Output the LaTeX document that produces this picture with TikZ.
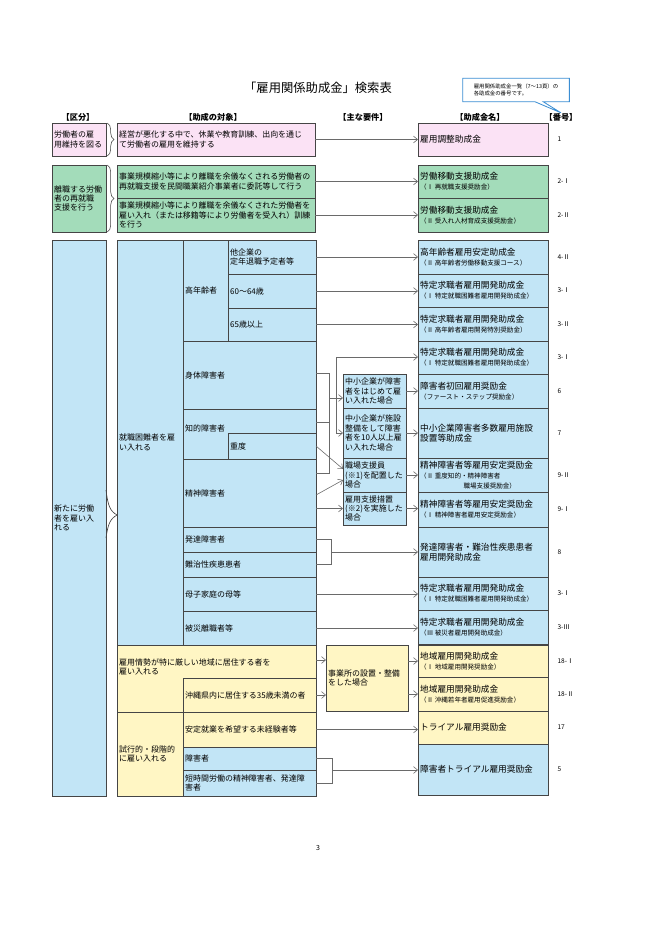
\documentclass[tikz,border=0pt]{standalone}
\usepackage{fontspec}
\setmainfont{Noto Sans CJK JP}
\usetikzlibrary{arrows.meta, positioning, fit, calc, shapes.callouts, decorations.pathreplacing}
\definecolor{kpink}{HTML}{FBE2F5}
\definecolor{kgreen}{HTML}{A3DCBA}
\definecolor{kblue}{HTML}{C2E5F6}
\definecolor{kyellow}{HTML}{FFF6C4}
\definecolor{kline}{HTML}{454545}
\definecolor{karrow}{HTML}{6A6A6A}
\definecolor{knote}{HTML}{3B8ED3}
\newcommand{\subn}{\fontsize{5.6}{6.6}\selectfont}
\tikzset{
  cell/.style={draw=kline, line width=0.55pt, inner sep=0pt, outer sep=0pt},
  txt/.style={inner sep=0.6mm, align=left, font=\fontsize{6.8}{8}\selectfont},
  fundtxt/.style={inner sep=0.6mm, align=left, font=\fontsize{7.4}{8.4}\selectfont},
  num/.style={inner sep=0pt, font=\fontsize{5.6}{6}\selectfont},
  hdr/.style={inner sep=0pt, font=\fontsize{7}{8}\selectfont\bfseries},
  arr/.style={draw=karrow, line width=0.5pt, -{Straight Barb[length=1.2mm, width=2mm]}},
  link/.style={draw=karrow, line width=0.5pt},
}
\begin{document}
\begin{tikzpicture}[x=0.3mm, y=-0.3mm]
\useasboundingbox (0,0) rectangle (660,934);
\fill[white] (0,0) rectangle (660,934);

% title, headers, note
\node[inner sep=0pt, font=\fontsize{10.5}{12}\selectfont] (title) at (318,88) {「雇用関係助成金」検索表};
\node[hdr] (hkubun) at (78,117) {【区分】};
\node[hdr] (htaisho) at (213,117) {【助成の対象】};
\node[hdr] (hyoken) at (363,117) {【主な要件】};
\node[hdr] (hkin) at (480,117) {【助成金名】};
\node[hdr] (hbango) at (561,117) {【番号】};
\node[rectangle callout, draw=knote, line width=0.7pt, fill=white, align=left,
  minimum width=32mm, minimum height=7mm, inner sep=1mm,
  font=\fontsize{4.6}{6}\selectfont, callout absolute pointer={(hbango.north)}]
  (note) at (516,90) {雇用関係助成金一覧（7～13頁）の\\各助成金の番号です。};

% row 1
\node[cell, fill=kpink, fit={(52,123) (106,156)}] (kubun1) {};
\node[txt, right=0pt of kubun1.west] (kubun1t) {労働者の雇\\用維持を図る};
\node[cell, fill=kpink, fit={(117,123) (315,156)}] (taisho1) {};
\node[txt, right=0pt of taisho1.west] (taisho1t) {経営が悪化する中で、休業や教育訓練、出向を通じ\\て労働者の雇用を維持する};
\node[cell, fill=kpink, fit={(418,123) (548,156)}] (kin1) {};
\node[fundtxt, right=0pt of kin1.west] (kin1t) {雇用調整助成金};
\node[num, right=2.8mm of kin1] (n1) {1};
\draw[link, draw=kline, decorate, decoration={brace, amplitude=2mm}]
  ([xshift=0.4mm]kubun1.north east) -- ([xshift=0.4mm]kubun1.south east);
\draw[arr] (taisho1.east) -- (kin1.west);

% row 2
\node[cell, fill=kgreen, fit={(52,165) (106,232)}] (kubun2) {};
\node[txt, right=0pt of kubun2.west] (kubun2t) {離職する労働\\者の再就職\\支援を行う};
\node[cell, fill=kgreen, fit={(117,165) (315,198)}] (taisho2a) {};
\node[txt, right=0pt of taisho2a.west] (taisho2at) {事業規模縮小等により離職を余儀なくされる労働者の\\再就職支援を民間職業紹介事業者に委託等して行う};
\node[cell, fill=kgreen, fit={(117,198) (315,232)}] (taisho2b) {};
\node[txt, right=0pt of taisho2b.west] (taisho2bt) {事業規模縮小等により離職を余儀なくされた労働者を\\雇い入れ（または移籍等により労働者を受入れ）訓練\\を行う};
\node[cell, fill=kgreen, fit={(418,165) (548,198)}] (kin2a) {};
\node[fundtxt, right=0pt of kin2a.west] (kin2at) {労働移動支援助成金\\{\subn （Ⅰ 再就職支援奨励金）}};
\node[cell, fill=kgreen, fit={(418,198) (548,232)}] (kin2b) {};
\node[fundtxt, right=0pt of kin2b.west] (kin2bt) {労働移動支援助成金\\{\subn （Ⅱ 受入れ人材育成支援奨励金）}};
\node[num, right=2.8mm of kin2a] (n2a) {2-Ⅰ};
\node[num, right=2.8mm of kin2b] (n2b) {2-Ⅱ};
\draw[link, draw=kline, decorate, decoration={brace, amplitude=2mm}]
  ([xshift=0.4mm]kubun2.north east) -- ([xshift=0.4mm]kubun2.south east);
\draw[arr] (taisho2a.east) -- (kin2a.west);
\draw[arr] (taisho2b.east) -- (kin2b.west);

% row 3: left cells
\node[cell, fill=kblue, fit={(52,240) (106,796)}] (shinki) {};
\node[txt, right=0pt of shinki.west] (shinkit) {新たに労働\\者を雇い入\\れる};
\draw[draw=kline, line width=0.55pt] (106,490) .. controls (108,506) and (110,511) .. (117,515)
  .. controls (110,519) and (108,524) .. (106,538);
\node[cell, fill=kblue, fit={(117,240) (183,645)}] (konnan) {};
\node[txt, right=0pt of konnan.west] (konnant) {就職困難者を雇\\い入れる};
\node[cell, fill=kblue, fit={(183,240) (228,341)}] (kourei) {};
\node[txt, right=0pt of kourei.west] (koureit) {高年齢者};
\node[cell, fill=kblue, fit={(228,240) (316,274)}] (tanin) {};
\node[txt, right=0pt of tanin.west] (tanint) {他企業の\\定年退職予定者等};
\node[cell, fill=kblue, fit={(228,274) (316,308)}] (age60) {};
\node[txt, right=0pt of age60.west] (age60t) {60～64歳};
\node[cell, fill=kblue, fit={(228,308) (316,341)}] (age65) {};
\node[txt, right=0pt of age65.west] (age65t) {65歳以上};
\node[cell, fill=kblue, fit={(183,341) (316,409)}] (shintai) {};
\node[txt, right=0pt of shintai.west] (shintait) {身体障害者};
\node[cell, fill=kblue, fit={(183,409) (316,459)}] (chiteki) {};
\node[txt, anchor=west] (chitekit) at (183,428) {知的障害者};
\node[cell, fill=kblue, fit={(228,433) (316,459)}] (judo) {};
\node[txt, right=0pt of judo.west] (judot) {重度};
\node[cell, fill=kblue, fit={(183,459) (316,527)}] (seishin) {};
\node[txt, right=0pt of seishin.west] (seishint) {精神障害者};
\node[cell, fill=kblue, fit={(183,527) (316,552)}] (hattatsu) {};
\node[txt, right=0pt of hattatsu.west] (hattatsut) {発達障害者};
\node[cell, fill=kblue, fit={(183,552) (316,577)}] (nanji) {};
\node[txt, right=0pt of nanji.west] (nanjit) {難治性疾患患者};
\node[cell, fill=kblue, fit={(183,577) (316,611)}] (boshi) {};
\node[txt, right=0pt of boshi.west] (boshit) {母子家庭の母等};
\node[cell, fill=kblue, fit={(183,611) (316,645)}] (hisai) {};
\node[txt, right=0pt of hisai.west] (hisait) {被災離職者等};
\node[cell, fill=kyellow, fit={(117,645) (316,712)}] (chiiki) {};
\node[txt, anchor=west] (chiikit) at (117,667) {雇用情勢が特に厳しい地域に居住する者を\\雇い入れる};
\node[cell, fill=kyellow, fit={(183,678) (316,712)}] (okinawa) {};
\node[txt, right=0pt of okinawa.west] (okinawat) {沖縄県内に居住する35歳未満の者};
\node[cell, fill=kyellow, fit={(117,712) (183,796)}] (shiko) {};
\node[txt, right=0pt of shiko.west] (shikot) {試行的・段階的\\に雇い入れる};
\node[cell, fill=kyellow, fit={(183,712) (316,747)}] (antei) {};
\node[txt, right=0pt of antei.west] (anteit) {安定就業を希望する未経験者等};
\node[cell, fill=kblue, fit={(183,747) (316,770)}] (shogai) {};
\node[txt, right=0pt of shogai.west] (shogait) {障害者};
\node[cell, fill=kblue, fit={(183,770) (316,796)}] (tanjikan) {};
\node[txt, right=0pt of tanjikan.west] (tanjikant) {短時間労働の精神障害者、発達障\\害者};

% row 3: conditions
\node[cell, fill=kblue, fit={(343,374) (406,408)}] (condA) {};
\node[txt, right=0pt of condA.west] (condAt) {中小企業が障害\\者をはじめて雇\\い入れた場合};
\node[cell, fill=kblue, fit={(343,408) (406,458)}] (condB) {};
\node[txt, right=0pt of condB.west] (condBt) {中小企業が施設\\整備をして障害\\者を10人以上雇\\い入れた場合};
\node[cell, fill=kblue, fit={(343,458) (406,492)}] (condC) {};
\node[txt, right=0pt of condC.west] (condCt) {職場支援員\\(※1)を配置した\\場合};
\node[cell, fill=kblue, fit={(343,492) (406,525)}] (condD) {};
\node[txt, right=0pt of condD.west] (condDt) {雇用支援措置\\(※2)を実施した\\場合};
\node[cell, fill=kyellow, fit={(326,645) (408,711)}] (jigyo) {};
\node[txt, right=0pt of jigyo.west] (jigyot) {事業所の設置・整備\\をした場合};

% row 3: subsidies
\node[cell, fill=kblue, fit={(418,240) (548,274)}] (kin3) {};
\node[fundtxt, right=0pt of kin3.west] (kin3t) {高年齢者雇用安定助成金\\{\subn （Ⅱ 高年齢者労働移動支援コース）}};
\node[cell, fill=kblue, fit={(418,274) (548,307)}] (kin4) {};
\node[fundtxt, right=0pt of kin4.west] (kin4t) {特定求職者雇用開発助成金\\{\subn （Ⅰ 特定就職困難者雇用開発助成金）}};
\node[cell, fill=kblue, fit={(418,307) (548,341)}] (kin5) {};
\node[fundtxt, right=0pt of kin5.west] (kin5t) {特定求職者雇用開発助成金\\{\subn （Ⅱ 高年齢者雇用開発特別奨励金）}};
\node[cell, fill=kblue, fit={(418,341) (548,374)}] (kin6) {};
\node[fundtxt, right=0pt of kin6.west] (kin6t) {特定求職者雇用開発助成金\\{\subn （Ⅰ 特定就職困難者雇用開発助成金）}};
\node[cell, fill=kblue, fit={(418,374) (548,408)}] (kin7) {};
\node[fundtxt, right=0pt of kin7.west] (kin7t) {障害者初回雇用奨励金\\{\subn （ファースト・ステップ奨励金）}};
\node[cell, fill=kblue, fit={(418,408) (548,458)}] (kin8) {};
\node[fundtxt, right=0pt of kin8.west] (kin8t) {中小企業障害者多数雇用施設\\設置等助成金};
\node[cell, fill=kblue, fit={(418,458) (548,492)}] (kin9) {};
\node[fundtxt, right=0pt of kin9.west] (kin9t) {精神障害者等雇用安定奨励金\\{\subn （Ⅱ 重度知的・精神障害者}\\{\subn\hspace*{13mm}職場支援奨励金）}};
\node[cell, fill=kblue, fit={(418,492) (548,527)}] (kin10) {};
\node[fundtxt, right=0pt of kin10.west] (kin10t) {精神障害者等雇用安定奨励金\\{\subn （Ⅰ 精神障害者雇用安定奨励金）}};
\node[cell, fill=kblue, fit={(418,527) (548,577)}] (kin11) {};
\node[fundtxt, right=0pt of kin11.west] (kin11t) {発達障害者・難治性疾患患者\\雇用開発助成金};
\node[cell, fill=kblue, fit={(418,577) (548,610)}] (kin12) {};
\node[fundtxt, right=0pt of kin12.west] (kin12t) {特定求職者雇用開発助成金\\{\subn （Ⅰ 特定就職困難者雇用開発助成金）}};
\node[cell, fill=kblue, fit={(418,610) (548,644)}] (kin13) {};
\node[fundtxt, right=0pt of kin13.west] (kin13t) {特定求職者雇用開発助成金\\{\subn （Ⅲ 被災者雇用開発助成金）}};
\node[cell, fill=kyellow, fit={(418,645) (548,677)}] (kin14) {};
\node[fundtxt, right=0pt of kin14.west] (kin14t) {地域雇用開発助成金\\{\subn （Ⅰ 地域雇用開発奨励金）}};
\node[cell, fill=kyellow, fit={(418,677) (548,711)}] (kin15) {};
\node[fundtxt, right=0pt of kin15.west] (kin15t) {地域雇用開発助成金\\{\subn （Ⅱ 沖縄若年者雇用促進奨励金）}};
\node[cell, fill=kyellow, fit={(418,711) (548,744)}] (kin16) {};
\node[fundtxt, right=0pt of kin16.west] (kin16t) {トライアル雇用奨励金};
\node[cell, fill=kblue, fit={(418,744) (548,795)}] (kin17) {};
\node[fundtxt, right=0pt of kin17.west] (kin17t) {障害者トライアル雇用奨励金};

\node[num, right=2.8mm of kin3] (n3) {4-Ⅱ};
\node[num, right=2.8mm of kin4] (n4) {3-Ⅰ};
\node[num, right=2.8mm of kin5] (n5) {3-Ⅱ};
\node[num, right=2.8mm of kin6] (n6) {3-Ⅰ};
\node[num, right=2.8mm of kin7] (n7) {6};
\node[num, right=2.8mm of kin8] (n8) {7};
\node[num, right=2.8mm of kin9] (n9) {9-Ⅱ};
\node[num, right=2.8mm of kin10] (n10) {9-Ⅰ};
\node[num, right=2.8mm of kin11] (n11) {8};
\node[num, right=2.8mm of kin12] (n12) {3-Ⅰ};
\node[num, right=2.8mm of kin13] (n13) {3-Ⅲ};
\node[num, right=2.8mm of kin14] (n14) {18-Ⅰ};
\node[num, right=2.8mm of kin15] (n15) {18-Ⅱ};
\node[num, right=2.8mm of kin16] (n16) {17};
\node[num, right=2.8mm of kin17] (n17) {5};

% row 3: connectors
\draw[arr] (tanin.east) -- (tanin.east -| kin3.west);
\draw[arr] (age60.east) -- (age60.east -| kin4.west);
\draw[arr] (age65.east) -- (age65.east -| kin5.west);
\coordinate (busA1) at (329,373);
\coordinate (busAm) at (329,422);
\coordinate (busAj) at (329,398);
\coordinate (busA2) at (329,473);
\coordinate (busB1) at (336,357);
\coordinate (busB2) at (336,433);
\draw[link] (shintai.east |- busA1) -- (busA1) -- (busA2) -- (seishin.east |- busA2);
\draw[link] (chiteki.east |- busAm) -- (busAm);
\draw[arr] (busAj) -- (busAj -| condA.west);
\draw[link] (busB1) -- (busB2);
\draw[arr] (busB1) -- (busB1 -| kin6.west);
\draw[arr] (busB2) -- (busB2 -| condB.west);
\draw[arr] (judo.east) -- ($(condC.west)+(0,-6)$);
\draw[arr] ($(seishin.east)+(0,2)$) -- ($(condC.west)+(0,5)$);
\draw[arr] (seishin.east |- condD.west) -- (condD.west);
\draw[arr] (condA.east) -- (condA.east -| kin7.west);
\draw[arr] (condB.east) -- (condB.east -| kin8.west);
\draw[arr] (condC.east) -- (condC.east -| kin9.west);
\draw[arr] (condD.east) -- (condD.east -| kin10.west);
\coordinate (brkH) at (331,552);
\draw[link] (hattatsu.east) -- (hattatsu.east -| brkH) -- (nanji.east -| brkH) -- (nanji.east);
\draw[arr] (brkH) -- (brkH -| kin11.west);
\draw[arr] (boshi.east) -- (boshi.east -| kin12.west);
\draw[arr] (hisai.east) -- (hisai.east -| kin13.west);
\coordinate (chiikiout) at (316,660);
\draw[arr] (chiikiout) -- (chiikiout -| jigyo.west);
\draw[arr] (okinawa.east) -- (okinawa.east -| jigyo.west);
\draw[arr] (kin14.west -| jigyo.east) -- (kin14.west);
\draw[arr] (kin15.west -| jigyo.east) -- (kin15.west);
\draw[arr] (antei.east) -- (antei.east -| kin16.west);
\coordinate (brkS) at (332,770);
\draw[link] (shogai.east) -- (shogai.east -| brkS) -- (tanjikan.east -| brkS) -- (tanjikan.east);
\draw[arr] (brkS) -- (brkS -| kin17.west);

\node[inner sep=0pt, font=\fontsize{6}{7}\selectfont] (page) at (318,848) {3};
\end{tikzpicture}
\end{document}
